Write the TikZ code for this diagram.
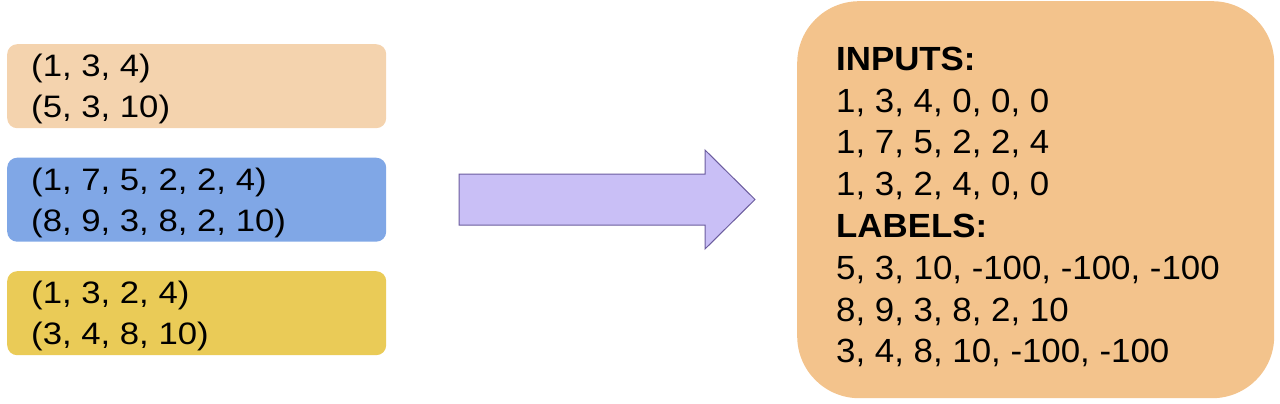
\documentclass[tikz,border=0pt]{standalone}
\usepackage{fontspec}
\setmainfont{Liberation Sans}
\newfontfamily\leftfont[FakeStretch=1.12]{Liberation Sans}
\newfontfamily\rightfont[FakeStretch=1.04]{Liberation Sans}
\definecolor{peach}{RGB}{244,211,174}
\definecolor{cornflower}{RGB}{128,167,230}
\definecolor{mustard}{RGB}{234,203,87}
\definecolor{sand}{RGB}{243,195,140}
\definecolor{lilac}{RGB}{201,191,246}
\definecolor{lilacedge}{RGB}{107,92,158}
\tikzset{
 pairbox/.style={rectangle,rounded corners=10pt,minimum width=379pt,minimum height=84pt,inner sep=0,anchor=north west},
 pairtext/.style={anchor=base west,inner sep=0,font=\leftfont\fontsize{31}{41}\selectfont},
 batchbox/.style={rectangle,fill=sand,rounded corners=62pt,minimum width=477pt,minimum height=397pt,inner sep=0,anchor=north west},
 batchtext/.style={anchor=base west,inner sep=0,font=\rightfont\fontsize{33.5}{42}\selectfont},
 blockarrow/.style={fill=lilac,draw=lilacedge,line width=1pt,line join=miter}
}

\begin{document}
\begin{tikzpicture}[x=1pt,y=-1pt]
\path[use as bounding box] (0,0) rectangle (1280,404);
% sequence pairs
\node[pairbox,fill=peach] (pairA) at (7,44) {};
\node[pairtext] (pairA1) at (31,77) {(1, 3, 4)};
\node[pairtext] (pairA2) at (31,117.5) {(5, 3, 10)};
\node[pairbox,fill=cornflower] (pairB) at (7,157.5) {};
\node[pairtext] (pairB1) at (31,190.5) {(1, 7, 5, 2, 2, 4)};
\node[pairtext] (pairB2) at (31,231) {(8, 9, 3, 8, 2, 10)};
\node[pairbox,fill=mustard] (pairC) at (7,271) {};
\node[pairtext] (pairC1) at (31,303.5) {(1, 3, 2, 4)};
\node[pairtext] (pairC2) at (31,344) {(3, 4, 8, 10)};
% padding arrow
\draw[blockarrow] (459,174) -- (705,174) -- (705,150) -- (755,199.5)
  -- (705,249) -- (705,225) -- (459,225) -- cycle;
% padded batch
\node[batchbox] (batch) at (797,1) {};
\node[batchtext] (inputs) at (836,70.2) {\bfseries INPUTS:};
\node[batchtext] (in1) at (836,112) {1, 3, 4, 0, 0, 0};
\node[batchtext] (in2) at (836,153.8) {1, 7, 5, 2, 2, 4};
\node[batchtext] (in3) at (836,195.6) {1, 3, 2, 4, 0, 0};
\node[batchtext] (labels) at (836,237.4) {\bfseries LABELS:};
\node[batchtext] (lab1) at (836,279.2) {5, 3, 10, -100, -100, -100};
\node[batchtext] (lab2) at (836,321) {8, 9, 3, 8, 2, 10};
\node[batchtext] (lab3) at (836,362.8) {3, 4, 8, 10, -100, -100};
\end{tikzpicture}
\end{document}
